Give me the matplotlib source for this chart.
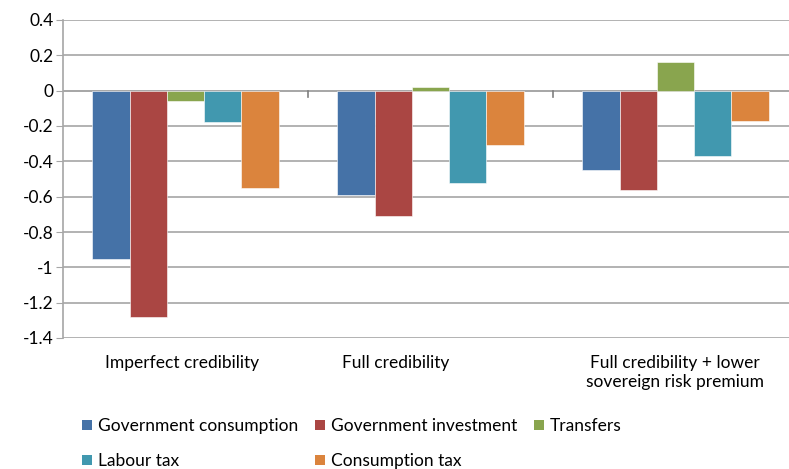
import numpy as np
import matplotlib
matplotlib.use("Agg")
import matplotlib.pyplot as plt
from matplotlib.patches import Patch

# --- Data ---
categories = ["Imperfect credibility", "Full credibility",
              "Full credibility + lower\nsovereign risk premium"]
series_names = ["Government consumption", "Government investment", "Transfers",
                "Labour tax", "Consumption tax"]
gov_consumption = [-0.95, -0.59, -0.45]
gov_investment = [-1.28, -0.71, -0.56]
transfers = [-0.06, 0.02, 0.16]
labour_tax = [-0.18, -0.52, -0.37]
consumption_tax = [-0.55, -0.31, -0.17]
yticks = [0.4, 0.2, 0, -0.2, -0.4, -0.6, -0.8, -1, -1.2, -1.4]

colors = ["#4572A7", "#AA4643", "#89A54E", "#4198AF", "#DB843D"]
series = [gov_consumption, gov_investment, transfers, labour_tax, consumption_tax]

plt.rcParams["font.family"] = ["Lato", "DejaVu Sans"]
FS = 12.5

fig = plt.figure(figsize=(7.89, 4.69), dpi=100)
# plot area runs a little past the right edge, like the original
ax = fig.add_axes([63 / 789, 1 - 338 / 469, 735 / 789, (338 - 20) / 469])

x = np.arange(len(categories))
width = 0.152
for i, (vals, c) in enumerate(zip(series, colors)):
    ax.bar(x + (i - 2) * width, vals, width, color=c, edgecolor="white",
           linewidth=0.4, zorder=3)

ax.set_xlim(-0.5, 2.5)
ax.set_ylim(-1.4, 0.4)
ax.set_yticks(yticks)
ax.set_yticklabels([f"{t:g}" for t in yticks], fontsize=FS)
ax.yaxis.grid(True, color="#A6A6A6", linewidth=1.2, zorder=0)
ax.tick_params(axis="y", length=5, color="#A6A6A6", pad=2)

for s in ["top", "right", "bottom"]:
    ax.spines[s].set_visible(False)
ax.spines["left"].set_color("#A6A6A6")
ax.spines["left"].set_linewidth(1.2)

# zero axis line with category boundary ticks
ax.axhline(0, color="#A6A6A6", linewidth=1.2, zorder=2)
for b in [0.5, 1.5]:
    ax.plot([b, b], [0, -0.035], color="#7F7F7F", linewidth=1.2, zorder=2)

ax.set_xticks([])
# category labels (Excel places them slightly off-centre)
label_offsets = [-0.014, -0.141, -0.002]
for xi, off, lab in zip(x, label_offsets, categories):
    ax.text(xi + off, -1.4 - 0.095, lab, ha="center", va="top", fontsize=FS,
            linespacing=1.25, clip_on=False)

handles = [Patch(facecolor=c, edgecolor="none") for c in colors]
order = [0, 3, 1, 4, 2]
fig.legend([handles[i] for i in order], [series_names[i] for i in order],
           ncol=3, loc="upper left", bbox_to_anchor=(82 / 789, 1 - 418 / 469),
           frameon=False, fontsize=FS, handlelength=0.55, handleheight=0.55,
           handletextpad=0.35, columnspacing=1.0, labelspacing=1.1,
           borderpad=0, borderaxespad=0)

fig.savefig("out.png", dpi=100)
